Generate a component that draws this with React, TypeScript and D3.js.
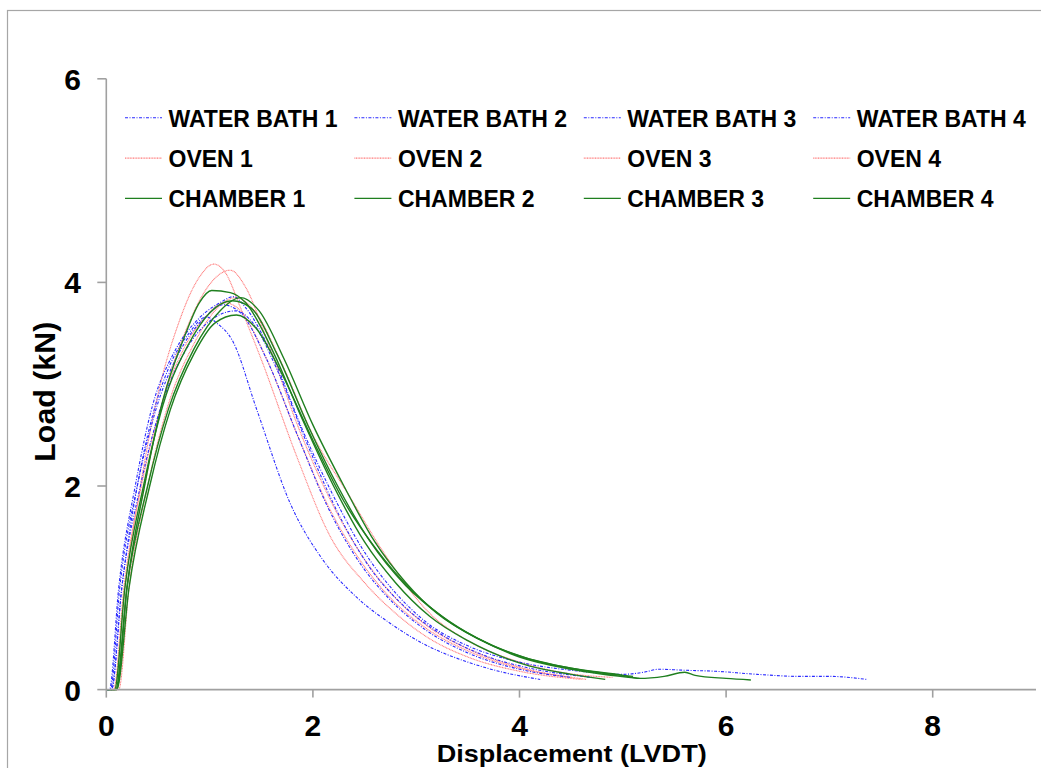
import React from "react";
import * as d3 from "d3";

type Pt = [number, number];

// Displacement (LVDT) vs Load (kN) key points
const waterBath1: Pt[] = [[0,0],[0.05,0],[0.15,1.0],[0.3,2.0],[0.45,2.7],[0.6,3.15],[0.8,3.5],[0.97,3.66],[1.07,3.6],[1.22,3.43],[1.46,2.74],[1.78,1.83],[2.1,1.27],[2.42,0.91],[2.75,0.65],[3.07,0.45],[3.5,0.27],[3.8,0.18],[4.2,0.1]];
const waterBath2: Pt[] = [[0,0],[0.03,0],[0.12,1.0],[0.28,2.0],[0.45,2.8],[0.65,3.3],[0.9,3.65],[1.1,3.8],[1.23,3.86],[1.35,3.75],[1.6,3.3],[1.9,2.55],[2.2,1.9],[2.5,1.35],[2.8,0.95],[3.1,0.66],[3.5,0.43],[4.0,0.27],[4.5,0.19],[5.0,0.15],[5.2,0.17],[5.35,0.2],[5.6,0.19],[5.9,0.18],[6.3,0.15],[6.7,0.13],[7.0,0.13],[7.36,0.1]];
const waterBath3: Pt[] = [[0,0],[0.04,0],[0.13,1.0],[0.3,2.0],[0.48,2.75],[0.7,3.3],[0.95,3.65],[1.13,3.78],[1.3,3.7],[1.55,3.25],[1.85,2.5],[2.15,1.78],[2.45,1.25],[2.75,0.88],[3.1,0.58],[3.5,0.36],[4.0,0.2],[4.5,0.12]];
const waterBath4: Pt[] = [[0,0],[0.05,0],[0.15,1.0],[0.33,2.0],[0.52,2.75],[0.75,3.3],[1.0,3.62],[1.25,3.72],[1.42,3.6],[1.65,3.15],[1.95,2.4],[2.25,1.72],[2.55,1.2],[2.85,0.85],[3.2,0.57],[3.6,0.36],[4.1,0.21],[4.7,0.12]];

const oven1: Pt[] = [[0,0],[0.08,0],[0.18,1.0],[0.33,2.0],[0.5,2.9],[0.7,3.6],[0.9,4.05],[1.04,4.18],[1.15,4.1],[1.3,3.75],[1.49,3.27],[1.84,2.3],[2.17,1.5],[2.5,1.05],[2.8,0.75],[3.13,0.5],[3.5,0.32],[4.0,0.18],[4.6,0.1]];
const oven2: Pt[] = [[0,0],[0.1,0],[0.2,1.0],[0.37,2.0],[0.55,2.85],[0.8,3.6],[1.0,3.98],[1.2,4.12],[1.35,3.95],[1.55,3.45],[1.85,2.6],[2.2,1.8],[2.5,1.28],[2.8,0.9],[3.1,0.63],[3.5,0.4],[4.0,0.22],[4.65,0.1]];
const oven3: Pt[] = [[0,0],[0.12,0],[0.22,1.0],[0.4,2.0],[0.6,2.8],[0.85,3.4],[1.05,3.72],[1.25,3.85],[1.45,3.7],[1.7,3.2],[2.0,2.5],[2.36,1.89],[2.67,1.37],[3.13,0.75],[3.5,0.48],[4.0,0.27],[4.4,0.17],[4.9,0.12]];
const oven4: Pt[] = [[0,0],[0.07,0],[0.17,1.0],[0.34,2.0],[0.52,2.75],[0.75,3.35],[0.95,3.65],[1.15,3.8],[1.3,3.72],[1.55,3.25],[1.85,2.5],[2.15,1.8],[2.45,1.28],[2.75,0.9],[3.1,0.6],[3.5,0.38],[4.0,0.21],[4.5,0.12]];

const chamber1: Pt[] = [[0,0],[0.1,0],[0.2,1.0],[0.37,2.0],[0.55,2.85],[0.75,3.45],[0.9,3.8],[1.02,3.92],[1.2,3.9],[1.35,3.8],[1.6,3.35],[1.9,2.65],[2.2,2.0],[2.5,1.45],[2.8,1.05],[3.13,0.72],[3.5,0.48],[4.1,0.23],[4.5,0.15],[4.83,0.1]];
const chamber2: Pt[] = [[0,0],[0.1,0],[0.22,1.0],[0.42,2.0],[0.62,2.75],[0.85,3.3],[1.05,3.6],[1.26,3.68],[1.45,3.55],[1.7,3.1],[2.0,2.45],[2.3,1.85],[2.62,1.37],[2.95,0.98],[3.3,0.68],[3.7,0.45],[4.1,0.3],[4.5,0.21],[5.0,0.14],[5.16,0.11],[5.4,0.13],[5.6,0.17],[5.7,0.14],[6.0,0.11],[6.24,0.095]];
const chamber3: Pt[] = [[0,0],[0.08,0],[0.18,1.0],[0.36,2.0],[0.55,2.8],[0.8,3.4],[1.0,3.7],[1.22,3.82],[1.4,3.75],[1.65,3.3],[1.95,2.6],[2.25,1.98],[2.55,1.46],[2.9,1.02],[3.25,0.72],[3.6,0.5],[4.0,0.32],[4.5,0.2],[5.16,0.11]];
const chamber4: Pt[] = [[0,0],[0.09,0],[0.2,1.0],[0.4,2.0],[0.6,2.75],[0.85,3.35],[1.1,3.72],[1.3,3.85],[1.48,3.72],[1.72,3.25],[2.0,2.6],[2.3,2.0],[2.6,1.45],[2.9,1.05],[3.2,0.75],[3.6,0.5],[4.0,0.33],[4.5,0.21],[5.0,0.14],[5.1,0.13]];

const seriesNames = [
  "WATER BATH 1", "WATER BATH 2", "WATER BATH 3", "WATER BATH 4",
  "OVEN 1", "OVEN 2", "OVEN 3", "OVEN 4",
  "CHAMBER 1", "CHAMBER 2", "CHAMBER 3", "CHAMBER 4",
];
const seriesData: Pt[][] = [
  waterBath1, waterBath2, waterBath3, waterBath4,
  oven1, oven2, oven3, oven4,
  chamber1, chamber2, chamber3, chamber4,
];
const seriesGroup = ["wb","wb","wb","wb","ov","ov","ov","ov","ch","ch","ch","ch"];

const xTicks = [0, 2, 4, 6, 8];
const yTicks = [0, 2, 4, 6];

const styles: Record<string, { stroke: string; width: number; dash?: string }> = {
  wb: { stroke: "#2a2aff", width: 1.1, dash: "3,1.5,1,1.5" },
  ov: { stroke: "#ff7a7a", width: 1.1, dash: "1,0.6" },
  ch: { stroke: "#1f7f1f", width: 1.4 },
};

const FONT = "'Liberation Sans', Arial, sans-serif";

export default function App() {
  const W = 1041, H = 768;
  const x0 = 106.3, xEnd = 1036, y0 = 689.6, y6 = 78.8;
  const x = d3.scaleLinear().domain([0, 9]).range([x0, xEnd]);
  const y = d3.scaleLinear().domain([0, 6]).range([y0, y6]);
  const line = d3.line<Pt>().x(d => x(d[0])).y(d => y(d[1])).curve(d3.curveMonotoneX);

  const order = [4, 5, 6, 7, 0, 1, 2, 3, 8, 9, 10, 11];
  const axisColor = "#a0a0a0";

  return (
    <svg width={W} height={H} style={{ position: "absolute", left: 0, top: 0, background: "#fff" }}>
      <rect x={7.5} y={10.5} width={1040} height={770} fill="#fff" stroke="#a6a6a6" strokeWidth={1.2} />

      {/* curves */}
      {order.map(i => {
        const s = styles[seriesGroup[i]];
        return (
          <path key={i} d={line(seriesData[i]) || ""} fill="none" stroke={s.stroke}
            strokeWidth={s.width} strokeDasharray={s.dash} strokeLinejoin="round" />
        );
      })}

      {/* axes */}
      <line x1={x0} x2={x0} y1={y6} y2={y0} stroke={axisColor} strokeWidth={1.6} />
      <line x1={x0} x2={xEnd} y1={y0} y2={y0} stroke={axisColor} strokeWidth={1.6} />
      {yTicks.map(t => (
        <g key={"y" + t}>
          <line x1={x0 - 9} x2={x0} y1={y(t)} y2={y(t)} stroke={axisColor} strokeWidth={1.6} />
          <text x={81} y={y(t) + 11} textAnchor="end" fontFamily={FONT} fontWeight="bold" fontSize={30}>{t}</text>
        </g>
      ))}
      {xTicks.map(t => (
        <g key={"x" + t}>
          <line x1={x(t)} x2={x(t)} y1={y0} y2={y0 + 8} stroke={axisColor} strokeWidth={1.6} />
          <text x={x(t)} y={736} textAnchor="middle" fontFamily={FONT} fontWeight="bold" fontSize={30}>{t}</text>
        </g>
      ))}

      <text x={436.7} y={762} fontFamily={FONT} fontWeight="bold" fontSize={24}
        textLength={270} lengthAdjust="spacingAndGlyphs">Displacement (LVDT)</text>
      <text transform="translate(55,391.7) rotate(-90)" textAnchor="middle" fontFamily={FONT}
        fontWeight="bold" fontSize={29} textLength={140} lengthAdjust="spacingAndGlyphs">Load (kN)</text>

      {/* legend */}
      {seriesNames.map((name, i) => {
        const col = i % 4, row = Math.floor(i / 4);
        const lx = 125 + col * 229.4;
        const ly = 117.8 + row * 40.3;
        const s = styles[seriesGroup[i]];
        return (
          <g key={"lg" + i}>
            <line x1={lx} x2={lx + 37} y1={ly} y2={ly} stroke={s.stroke} strokeWidth={s.width}
              strokeDasharray={s.dash} />
            <text x={lx + 43.5} y={ly + 8.8} fontFamily={FONT} fontWeight="bold" fontSize={23}>{name}</text>
          </g>
        );
      })}
    </svg>
  );
}
